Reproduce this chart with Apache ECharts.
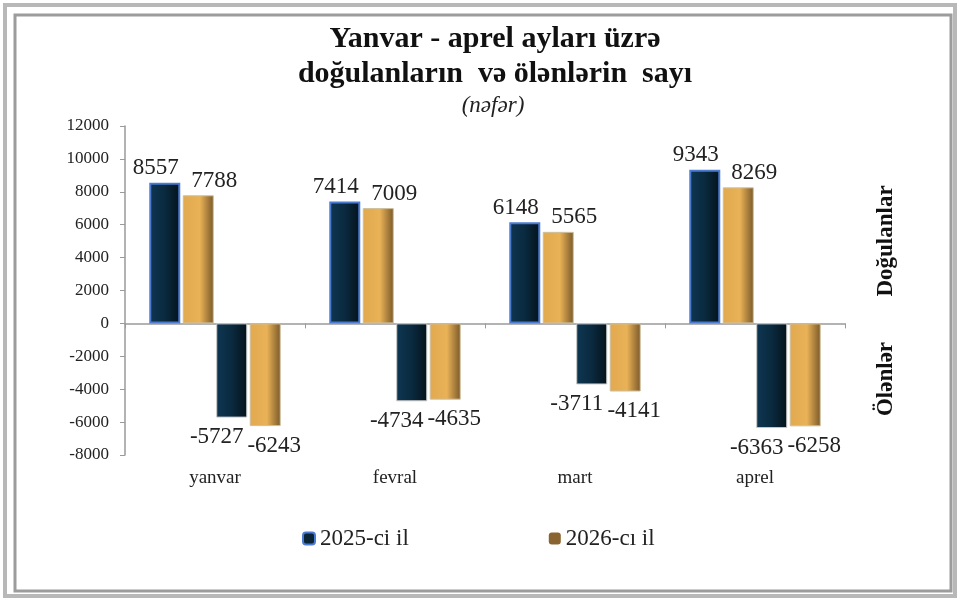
<!DOCTYPE html>
<html>
<head>
<meta charset="utf-8">
<script src="https://cdn.jsdelivr.net/npm/echarts@6/dist/echarts.min.js"></script>
<style>
  html, body { margin: 0; padding: 0; background: #fff; }
  #chart { width: 960px; height: 601px; }
</style>
</head>
<body>
<div id="chart"></div>
<script>
// aylar
var months = ['yanvar', 'fevral', 'mart', 'aprel'];
// doğulanlar
var born2025 = [8557, 7414, 6148, 9343];
var born2026 = [7788, 7009, 5565, 8269];
// ölənlər
var died2025 = [-5727, -4734, -3711, -6363];
var died2026 = [-6243, -4635, -4141, -6258];
var yTicks = { min: -8000, max: 12000, step: 2000 };

var serif = '"Liberation Serif", "DejaVu Serif", serif';

var navy = new echarts.graphic.LinearGradient(0, 0, 1, 0, [
    { offset: 0, color: '#0e3652' },
    { offset: 0.5, color: '#0a2a3f' },
    { offset: 1, color: '#04121a' }
]);
var gold = new echarts.graphic.LinearGradient(0, 0, 1, 0, [
    { offset: 0, color: '#e2a94f' },
    { offset: 0.55, color: '#e9b257' },
    { offset: 1, color: '#7a5829' }
]);

// etiketler
var lbl = function (pos, dx) {
    return {
        show: true,
        position: pos,
        distance: pos == 'top' ? 3 : 8,
        offset: [dx, 0],
        fontFamily: serif,
        fontSize: 23,
        color: '#222'
    };
};

var chart = echarts.init(document.getElementById('chart'));
var option = {
    animation: false,
    backgroundColor: '#fff',
    title: [{
        text: 'Yanvar - aprel ayları üzrə\ndoğulanların  və ölənlərin  sayı',
        left: 490,
        top: 17,
        textAlign: 'center',
        textStyle: {
            fontFamily: serif,
            fontWeight: 'bold',
            fontSize: 30,
            lineHeight: 35,
            color: '#111'
        }
    }, {
        text: '(nəfər)',
        left: 488,
        top: 89,
        textAlign: 'center',
        textStyle: {
            fontFamily: serif,
            fontStyle: 'italic',
            fontWeight: 'normal',
            fontSize: 23,
            color: '#222'
        }
    }],
    legend: {
        left: 297,
        top: 522,
        itemGap: 140,
        itemWidth: 12,
        itemHeight: 12,
        textStyle: { fontFamily: serif, fontSize: 23, color: '#222' },
        data: [
            { name: '2025-ci il', itemStyle: { color: '#0a2636', borderColor: '#4a7bd0', borderWidth: 2 } },
            { name: '2026-cı il', itemStyle: { color: '#8a6430', borderColor: '#8a6430', borderWidth: 0 } }
        ]
    },
    grid: { left: 125, right: 115, top: 126, bottom: 146 },
    xAxis: [{
        type: 'category',
        data: months,
        axisLine: { onZero: true, lineStyle: { color: '#9a9a9a', width: 1.5 } },
        axisTick: { show: true, length: 5, lineStyle: { color: '#9a9a9a' } },
        axisLabel: { show: false }
    }, {
        type: 'category',
        data: months,
        position: 'bottom',
        axisLine: { show: false, onZero: false },
        axisTick: { show: false },
        axisLabel: { margin: 14, fontFamily: serif, fontSize: 19, color: '#222' }
    }],
    yAxis: {
        type: 'value',
        min: yTicks.min,
        max: yTicks.max,
        interval: yTicks.step,
        splitLine: { show: false },
        axisLine: { show: true, lineStyle: { color: '#9a9a9a', width: 1.5 } },
        axisTick: { show: true, length: 5, lineStyle: { color: '#9a9a9a' } },
        axisLabel: {
            margin: 16,
            fontFamily: serif,
            fontSize: 17,
            color: '#222',
            formatter: function (v) { return String(v); }
        }
    },
    series: [{
        name: '2025-ci il',
        type: 'bar',
        data: born2025,
        barWidth: 31,
        barGap: '8%',
        itemStyle: { color: navy, borderColor: '#4a7bd0', borderWidth: 2 },
        label: lbl('top', -9)
    }, {
        name: '2026-cı il',
        type: 'bar',
        data: born2026,
        barWidth: 31,
        barGap: '8%',
        itemStyle: { color: gold, borderColor: '#cdbf9e', borderWidth: 1 },
        label: lbl('top', 16)
    }, {
        name: '2025-ci il',
        type: 'bar',
        data: died2025,
        barWidth: 31,
        barGap: '8%',
        itemStyle: { color: navy, borderColor: '#c8c8c8', borderWidth: 1 },
        label: lbl('bottom', -15)
    }, {
        name: '2026-cı il',
        type: 'bar',
        data: died2026,
        barWidth: 31,
        barGap: '8%',
        itemStyle: { color: gold, borderColor: '#cdbf9e', borderWidth: 1 },
        label: lbl('bottom', 9)
    }],
    graphic: [{
        type: 'rect',
        shape: { x: 5, y: 5, width: 950, height: 591 },
        style: { fill: 'none', stroke: '#b8b8b8', lineWidth: 4 },
        silent: true
    }, {
        type: 'rect',
        shape: { x: 15, y: 15, width: 936, height: 576 },
        style: { fill: 'none', stroke: '#9c9c9c', lineWidth: 3 },
        silent: true
    }, {
        type: 'text',
        x: 886,
        y: 241,
        rotation: Math.PI / 2,
        style: {
            text: 'Doğulanlar',
            fontFamily: serif,
            fontWeight: 'bold',
            fontSize: 23,
            fill: '#111',
            align: 'center',
            verticalAlign: 'middle'
        }
    }, {
        type: 'text',
        x: 886,
        y: 379,
        rotation: Math.PI / 2,
        style: {
            text: 'Ölənlər',
            fontFamily: serif,
            fontWeight: 'bold',
            fontSize: 23,
            fill: '#111',
            align: 'center',
            verticalAlign: 'middle'
        }
    }]
};
chart.setOption(option);
</script>
</body>
</html>
